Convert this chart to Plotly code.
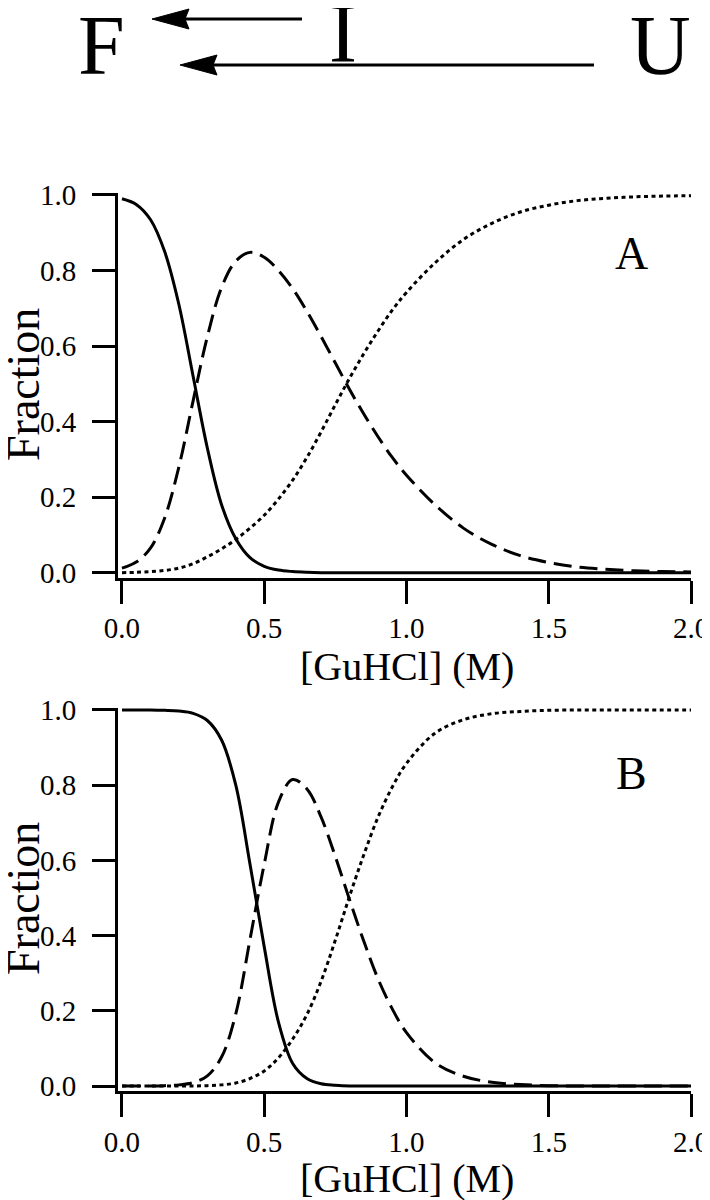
import plotly.graph_objects as go

# GuHCl concentration (M)
conc_a = [0.00, 0.05, 0.10, 0.15, 0.20, 0.25, 0.30, 0.35, 0.40, 0.45, 0.50, 0.55, 0.60,
          0.65, 0.70, 0.75, 0.80, 0.85, 0.90, 0.95, 1.00, 1.10, 1.20, 1.30, 1.40, 1.50,
          1.60, 1.70, 1.80, 1.90, 2.00]
native_a = [0.990, 0.975, 0.935, 0.850, 0.710, 0.520, 0.330, 0.180, 0.090, 0.040, 0.017,
            0.007, 0.003, 0.001, 0.000, 0.000, 0.000, 0.000, 0.000, 0.000, 0.000, 0.000,
            0.000, 0.000, 0.000, 0.000, 0.000, 0.000, 0.000, 0.000, 0.000]
interm_a = [0.012, 0.028, 0.065, 0.145, 0.280, 0.455, 0.625, 0.755, 0.825, 0.848, 0.835,
            0.800, 0.752, 0.692, 0.625, 0.555, 0.485, 0.420, 0.360, 0.305, 0.258, 0.180,
            0.118, 0.075, 0.045, 0.027, 0.015, 0.009, 0.005, 0.003, 0.002]
unfold_a = [0.000, 0.001, 0.003, 0.006, 0.012, 0.024, 0.042, 0.063, 0.088, 0.118, 0.152,
            0.195, 0.245, 0.305, 0.373, 0.445, 0.515, 0.580, 0.640, 0.695, 0.742, 0.820,
            0.882, 0.925, 0.955, 0.973, 0.985, 0.991, 0.995, 0.997, 0.998]

conc_b = conc_a
native_b = [1.000, 1.000, 1.000, 0.999, 0.997, 0.991, 0.972, 0.920, 0.800, 0.590, 0.370,
            0.170, 0.060, 0.020, 0.006, 0.002, 0.000, 0.000, 0.000, 0.000, 0.000, 0.000,
            0.000, 0.000, 0.000, 0.000, 0.000, 0.000, 0.000, 0.000, 0.000]
interm_b = [0.000, 0.000, 0.000, 0.001, 0.003, 0.009, 0.027, 0.077, 0.192, 0.390, 0.590,
            0.755, 0.815, 0.790, 0.715, 0.610, 0.495, 0.385, 0.285, 0.205, 0.142, 0.062,
            0.026, 0.010, 0.004, 0.001, 0.000, 0.000, 0.000, 0.000, 0.000]
unfold_b = [0.000, 0.000, 0.000, 0.000, 0.000, 0.000, 0.001, 0.003, 0.008, 0.020, 0.040,
            0.075, 0.125, 0.190, 0.279, 0.388, 0.505, 0.615, 0.715, 0.795, 0.858, 0.938,
            0.974, 0.990, 0.996, 0.999, 1.000, 1.000, 1.000, 1.000, 1.000]

x_ticks = [0.0, 0.5, 1.0, 1.5, 2.0]
y_ticks = [0.0, 0.2, 0.4, 0.6, 0.8, 1.0]

W, H = 710, 1200
FONT = "Liberation Serif, Times New Roman, serif"
OFF = 8  # page body margin, figure starts 8px in from the window corner


def px(x):
    return (x - OFF) / W


def py(y):
    return 1 - (y - OFF) / H


fig = go.Figure()

styles = [("solid", "F"), ("18px,8px", "I"), ("4px,3.5px", "U")]
panels = [
    ("x", "y", conc_a, [native_a, interm_a, unfold_a]),
    ("x2", "y2", conc_b, [native_b, interm_b, unfold_b]),
]
for xa, ya, conc, series in panels:
    for vals, (dash, name) in zip(series, styles):
        fig.add_trace(go.Scatter(
            x=conc, y=vals, name=name, mode="lines", xaxis=xa, yaxis=ya,
            line={"color": "black", "width": 3, "dash": dash, "shape": "spline"},
            showlegend=False,
        ))

axis_common = {
    "showline": True, "linewidth": 3, "linecolor": "black", "automargin": False,
    "ticks": "outside", "ticklen": 23, "tickwidth": 3, "tickcolor": "black",
    "showgrid": False, "zeroline": False,
    "tickfont": {"family": FONT, "size": 29, "color": "black"},
    "tickformat": ".1f",
}
xaxis = dict(axis_common, range=[-0.014, 2.0], tickvals=x_ticks, ticklabelstandoff=0,
             domain=[px(118), px(691)])
yaxis = dict(axis_common, range=[-0.013, 1.006], tickvals=y_ticks, ticklabelstandoff=10)

fig.update_layout(
    template="none",
    width=W, height=H,
    margin={"l": 0, "r": 0, "t": 0, "b": 0, "pad": 0},
    paper_bgcolor="white", plot_bgcolor="white",
    xaxis=dict(xaxis, anchor="y"),
    yaxis=dict(yaxis, anchor="x", domain=[py(577.6), py(192.7)]),
    xaxis2=dict(xaxis, anchor="y2"),
    yaxis2=dict(yaxis, anchor="x2", domain=[py(1090.9), py(707.7)]),
)

title_font = {"family": FONT, "size": 40, "color": "black"}
# axis titles placed by hand, like the original layout
for xt_y, yt_y in [(666, 385), (1178, 899)]:
    fig.add_annotation(x=px(407), y=py(xt_y), xref="paper", yref="paper",
                       text="[GuHCl] (M)", showarrow=False, font=title_font,
                       xanchor="center", yanchor="middle")
    fig.add_annotation(x=px(23), y=py(yt_y), xref="paper", yref="paper",
                       text="Fraction", showarrow=False, textangle=-90,
                       font=dict(title_font, size=46), xanchor="center", yanchor="middle")

# panel labels
for ref, label, yv in [("", "A", 0.846), ("2", "B", 0.83)]:
    fig.add_annotation(x=1.79, y=yv, xref="x" + ref, yref="y" + ref, text=label,
                       showarrow=False, font={"family": FONT, "size": 46, "color": "black"})

# kinetic scheme at the top: F <- I, F <- U
for label, cx, cy in [("F", 101, 46), ("I", 343, 33), ("U", 660, 46)]:
    fig.add_annotation(x=px(cx), y=py(cy), xref="paper", yref="paper", text=label,
                       showarrow=False, xanchor="center", yanchor="middle",
                       font={"family": FONT, "size": 84, "color": "black"})

for tail, tip, yy in [(302, 152, 19), (594, 180, 65)]:
    base = tip + 37
    fig.add_shape(type="line", xref="paper", yref="paper",
                  x0=px(tail), x1=px(base - 4), y0=py(yy), y1=py(yy),
                  line={"color": "black", "width": 3})
    path = (f"M {px(tip)},{py(yy)} L {px(base)},{py(yy - 10)} "
            f"L {px(base - 4)},{py(yy)} L {px(base)},{py(yy + 10)} Z")
    fig.add_shape(type="path", xref="paper", yref="paper", path=path,
                  fillcolor="black", line={"color": "black", "width": 1})

fig.write_html("out.html")
